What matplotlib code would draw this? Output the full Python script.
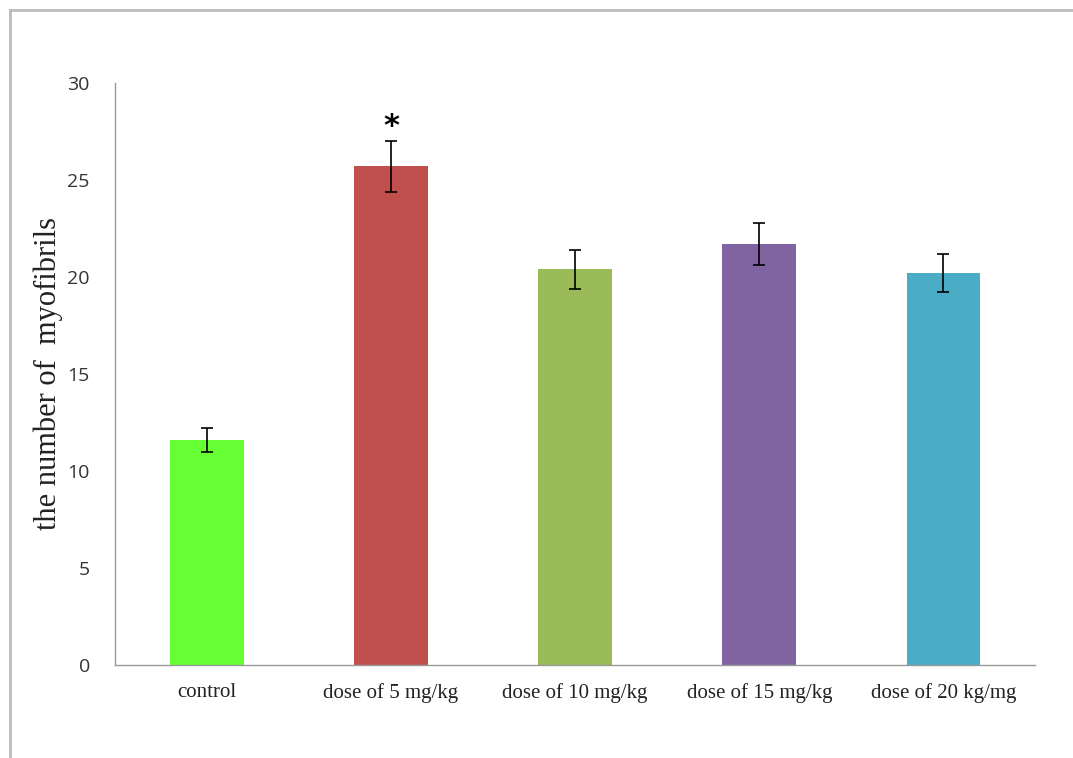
import matplotlib
matplotlib.use("Agg")
import matplotlib.pyplot as plt
from matplotlib.lines import Line2D

# Data
categories = ["control", "dose of 5 mg/kg", "dose of 10 mg/kg", "dose of 15 mg/kg", "dose of 20 kg/mg"]
means = [11.6, 25.7, 20.4, 21.7, 20.2]
errors = [0.6, 1.3, 1.0, 1.1, 1.0]
colors = ["#66FF33", "#C0504D", "#9BBB59", "#8064A2", "#4BACC6"]
significant = [False, True, False, False, False]
yticks = [0, 5, 10, 15, 20, 25, 30]

fig = plt.figure(figsize=(10.73, 7.58), dpi=100)
ax = fig.add_axes([0.107, 0.1227, 0.858, 0.768])

x = list(range(len(categories)))
ax.bar(x, means, width=0.4, color=colors, zorder=2)
ax.errorbar(x, means, yerr=errors, fmt="none", ecolor="black",
            elinewidth=1.2, capsize=4, capthick=1.2, zorder=3)

for xi, m, e, s in zip(x, means, errors, significant):
    if s:
        ax.text(xi, m + e + 0.75, "*", ha="center", va="center",
                fontsize=22, fontweight="bold", color="black")

ax.set_xlim(-0.5, len(categories) - 0.5)
ax.set_ylim(0, 30)
ax.set_yticks(yticks)
ax.set_yticklabels([str(t) for t in yticks], family="Open Sans", fontsize=14, color="#333333")
ax.set_xticks(x)
ax.set_xticklabels(categories, family="Liberation Serif", fontsize=15, color="#222222")
ax.tick_params(axis="both", length=0)
ax.tick_params(axis="y", pad=18)
ax.tick_params(axis="x", pad=13)

for side in ("top", "right"):
    ax.spines[side].set_visible(False)
for side in ("left", "bottom"):
    ax.spines[side].set_color("#999999")
    ax.spines[side].set_linewidth(1.0)

ax.set_ylabel("the number of  myofibrils", family="Liberation Serif", fontsize=22,
              color="#222222", labelpad=3)

# Outer frame lines along the top and left of the figure
fig.add_artist(Line2D([10 / 1073, 1.0], [1 - 10 / 758, 1 - 10 / 758],
                      transform=fig.transFigure, color="#bbbbbb", linewidth=2))
fig.add_artist(Line2D([10 / 1073, 10 / 1073], [0.0, 1 - 10 / 758],
                      transform=fig.transFigure, color="#bbbbbb", linewidth=2))

fig.savefig("out.png", dpi=100)
